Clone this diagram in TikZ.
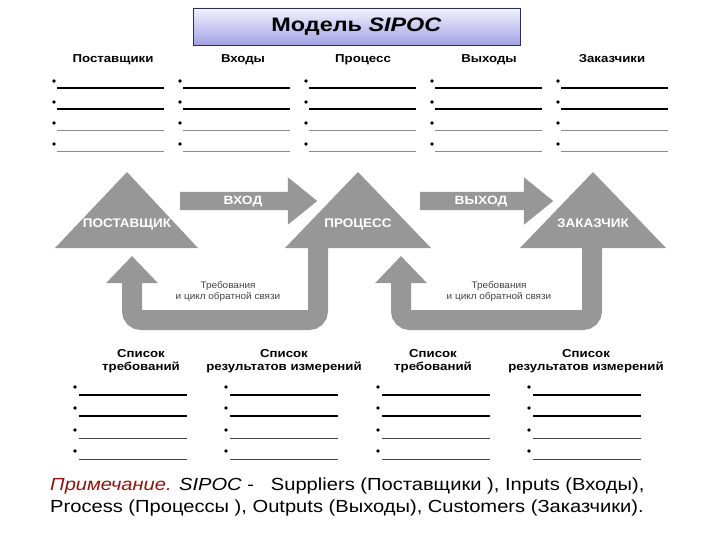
\documentclass[tikz,border=0pt]{standalone}
\usepackage{fontspec}
\setmainfont{Liberation Sans}
\usepackage{xcolor}
\usetikzlibrary{arrows.meta,shapes.arrows}
\definecolor{shapegray}{HTML}{979797}
\definecolor{notered}{HTML}{8B1414}
\definecolor{titletop}{HTML}{F2F2FF}
\definecolor{titlebottom}{HTML}{A2A2E4}
\definecolor{titleedge}{HTML}{2E2E5C}
\definecolor{loopgray}{HTML}{444444}
\definecolor{lightline}{HTML}{8A8A8A}
\newcommand{\widetext}[2][1.15]{\scalebox{#1}[1]{#2}}
\newcommand{\stacktext}[1]{\begin{tabular}{@{}c@{}}#1\end{tabular}}

\tikzset{
    titlebox/.style={draw=titleedge, line width=0.8pt, top color=titletop, bottom color=titlebottom,
        minimum width=327pt, minimum height=37pt, font=\bfseries\fontsize{19.5}{22}\selectfont},
    colhead/.style={inner sep=0, anchor=base, font=\bfseries\fontsize{11.5}{13}\selectfont},
    listhead/.style={inner sep=0, font=\bfseries\fontsize{11.5}{13}\selectfont},
    rowdark/.style={line width=1.1pt, black},
    rowlight/.style={line width=0.6pt, lightline},
    rowmid/.style={line width=0.9pt, black!75},
    trilabel/.style={inner sep=0, anchor=base, text=white, font=\bfseries\fontsize{12.5}{14}\selectfont},
    blockarrow/.style={single arrow, fill=shapegray, text=white, inner ysep=5pt, inner xsep=4pt,
        text height=8pt, text depth=0pt, single arrow head extend=14.5pt, single arrow tip angle=78,
        font=\bfseries\fontsize{12}{14}\selectfont},
    feedback/.style={draw=shapegray, line width=20pt, rounded corners=9pt,
        -{Triangle[width=50pt, length=27pt]}},
    looptext/.style={inner sep=0, text=loopgray, font=\fontsize{9.5}{11}\selectfont},
    notetext/.style={inner sep=0, anchor=base west, font=\fontsize{17.5}{20}\selectfont}
}

\begin{document}
\begin{tikzpicture}[x=1pt, y=-1pt]
    \useasboundingbox (0,0) rectangle (720,540);

    \node[titlebox] (title) at (356.5,26.5) {\widetext[1.2]{Модель \textit{SIPOC}}};

    % top lists
    \foreach \x/\name in {113/Поставщики, 243/Входы, 363/Процесс, 489/Выходы, 612/Заказчики}
        \node[colhead] (head\x) at (\x,63) {\widetext{\name}};
    \foreach \x in {54,180,306,432,558} {
        \foreach \y/\s in {88/rowdark, 109/rowdark, 130/rowlight, 151/rowlight} {
            \fill (\x,\y-7) circle (1.8);
            \draw[\s] (\x+3,\y) -- (\x+110,\y);
        }
    }

    % triangles
    \fill[shapegray] (55,248) -- (127,172) -- (198,248) -- cycle;
    \fill[shapegray] (285,248) -- (358,172) -- (431,248) -- cycle;
    \fill[shapegray] (520,248) -- (593,172) -- (666,248) -- cycle;
    \node[trilabel] (sup) at (127,227) {\widetext[1.08]{ПОСТАВЩИК}};
    \node[trilabel] (proc) at (358,227) {\widetext[1.08]{ПРОЦЕСС}};
    \node[trilabel] (cust) at (593,227) {\widetext[1.08]{ЗАКАЗЧИК}};

    \node[blockarrow, minimum height=137pt, anchor=tail] (inarrow) at (180,201) {\widetext{ВХОД}};
    \node[blockarrow, minimum height=133pt, anchor=tail] (outarrow) at (420,201) {\widetext{ВЫХОД}};

    % feedback loops
    \coordinate (procfoot) at (318,246);
    \coordinate (supfoot) at (132,256);
    \coordinate (custfoot) at (592,246);
    \coordinate (procback) at (401,256);
    \draw[feedback] (procfoot) -- (procfoot |- 0,320) -- (supfoot |- 0,320) -- (supfoot);
    \draw[feedback] (custfoot) -- (custfoot |- 0,320) -- (procback |- 0,320) -- (procback);
    \node[looptext] (loopone) at (228,292) {\widetext[1.05]{\stacktext{Требования\\и цикл обратной связи}}};
    \node[looptext] (looptwo) at (499,292) {\widetext[1.05]{\stacktext{Требования\\и цикл обратной связи}}};

    % bottom lists
    \foreach \x/\name in {141/{Список\\требований}, 284/{Список\\результатов измерений},
                          433/{Список\\требований}, 586/{Список\\результатов измерений}}
        \node[listhead] (list\x) at (\x,361) {\widetext{\stacktext{\name}}};
    \foreach \x in {75,226,378,529} {
        \foreach \y/\s in {395/rowdark, 416/rowdark, 438/rowmid, 459/rowmid} {
            \fill (\x,\y-8) circle (1.8);
            \draw[\s] (\x+4,\y) -- (\x+112,\y);
        }
    }

    \node[notetext] (noteone) at (50,490)
        {\widetext{\textcolor{notered}{\textit{Примечание.}} \textit{SIPOC} -\ \ \ Suppliers (Поставщики ), Inputs (Входы),}};
    \node[notetext] (notetwo) at (50,512)
        {\widetext{Process (Процессы ), Outputs (Выходы), Customers (Заказчики).}};
\end{tikzpicture}
\end{document}
